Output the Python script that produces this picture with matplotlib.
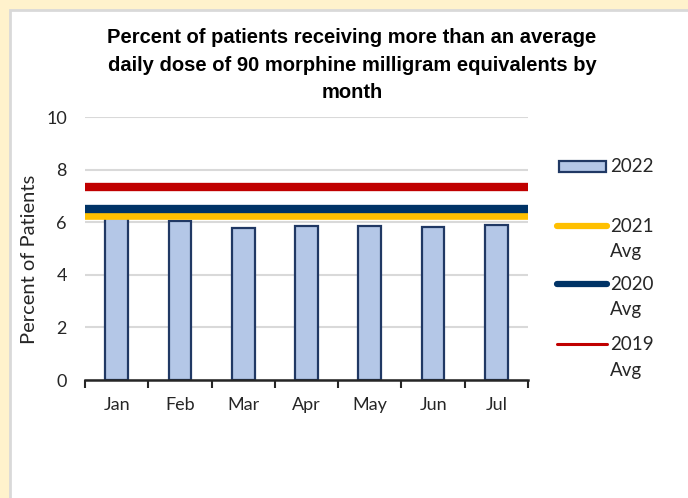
import numpy as np
import matplotlib
matplotlib.use("Agg")
import matplotlib.pyplot as plt
from matplotlib.patches import Rectangle
from matplotlib.lines import Line2D

months = ["Jan", "Feb", "Mar", "Apr", "May", "Jun", "Jul"]
pct_2022 = [6.3, 6.06, 5.77, 5.86, 5.86, 5.81, 5.91]
avg_2021 = 6.25
avg_2020 = 6.5
avg_2019 = 7.35

plt.rcParams['font.family'] = ['Lato', 'DejaVu Sans']
TXT = "#262626"

fig = plt.figure(figsize=(6.88, 4.98), dpi=100)
fig.patch.set_facecolor("#FFF2CC")
W, H = 688.0, 498.0


def fx(px):
    return px / W


def fy(py):
    return 1 - py / H


# white panel with a light grey edge
fig.patches.append(Rectangle((fx(10), -0.01), 1.1, fy(10) + 0.01, transform=fig.transFigure,
                             facecolor="white", edgecolor="#D9D9D9", linewidth=2, zorder=-5))

ax = fig.add_axes([fx(85), fy(380), (528 - 85) / W, (380 - 117) / H])
ax.set_facecolor("white")

x = np.arange(len(months))
ax.bar(x, pct_2022, width=0.36, color="#B4C7E7", edgecolor="#203864", linewidth=1.6, zorder=2)
xs = [-0.5, len(months) - 0.5]
ax.plot(xs, [avg_2021] * 2, color="#FFC000", linewidth=5.5, zorder=3)
ax.plot(xs, [avg_2020] * 2, color="#003366", linewidth=6, zorder=4)
ax.plot(xs, [avg_2019] * 2, color="#C00000", linewidth=6, zorder=5)

ax.set_xlim(-0.5, len(months) - 0.5)
ax.set_ylim(0, 10)
ax.set_yticks([0, 2, 4, 6, 8, 10])
ax.set_xticks(x)
ax.set_xticklabels(months)
ax.set_xticks(np.arange(-0.5, len(months)), minor=True)
ax.tick_params(axis="x", which="major", length=0, pad=12, labelsize=13, colors=TXT)
ax.tick_params(axis="x", which="minor", length=6, width=1.5, color=TXT, direction="out")
ax.tick_params(axis="y", length=0, pad=13, labelsize=13, colors=TXT)
ax.grid(axis="y", color="#D9D9D9", linewidth=1.5, zorder=0)
ax.set_axisbelow(True)
for s in ["top", "right", "left"]:
    ax.spines[s].set_visible(False)
ax.spines["bottom"].set_color(TXT)
ax.spines["bottom"].set_linewidth(1.8)
ax.spines["bottom"].set_zorder(6)

# y axis title placed in figure pixels
fig.text(fx(30), fy(259), "Percent of Patients", rotation=90, ha="center", va="center",
         fontsize=14.5, color=TXT)

fig.text(fx(352), fy(65),
         "Percent of patients receiving more than an average\ndaily dose of 90 morphine milligram equivalents by\nmonth",
         ha="center", va="center", fontsize=14.5, fontweight="bold", linespacing=1.55,
         family=["Liberation Sans", "DejaVu Sans"], color="black")

# legend drawn by hand so the handle sits by the first line of each label
fig.patches.append(Rectangle((fx(559), fy(172)), (606 - 559) / W, 11 / H, transform=fig.transFigure,
                             facecolor="#B4C7E7", edgecolor="#203864", linewidth=1.6))
fig.text(fx(610), fy(166), "2022", ha="left", va="center", fontsize=13.5, color=TXT)
leg = [("2021", "#FFC000", 4.5, 226), ("2020", "#003366", 4.5, 284), ("2019", "#C00000", 2.2, 344)]
for name, col, lw, py in leg:
    fig.add_artist(Line2D([fx(557), fx(607)], [fy(py), fy(py)], transform=fig.transFigure,
                          color=col, linewidth=lw, solid_capstyle="round"))
    fig.text(fx(610), fy(py), name, ha="left", va="center", fontsize=13.5, color=TXT)
    fig.text(fx(610), fy(py + 26), "Avg", ha="left", va="center", fontsize=13.5, color=TXT)

fig.savefig("out.png", dpi=100, facecolor=fig.get_facecolor())
